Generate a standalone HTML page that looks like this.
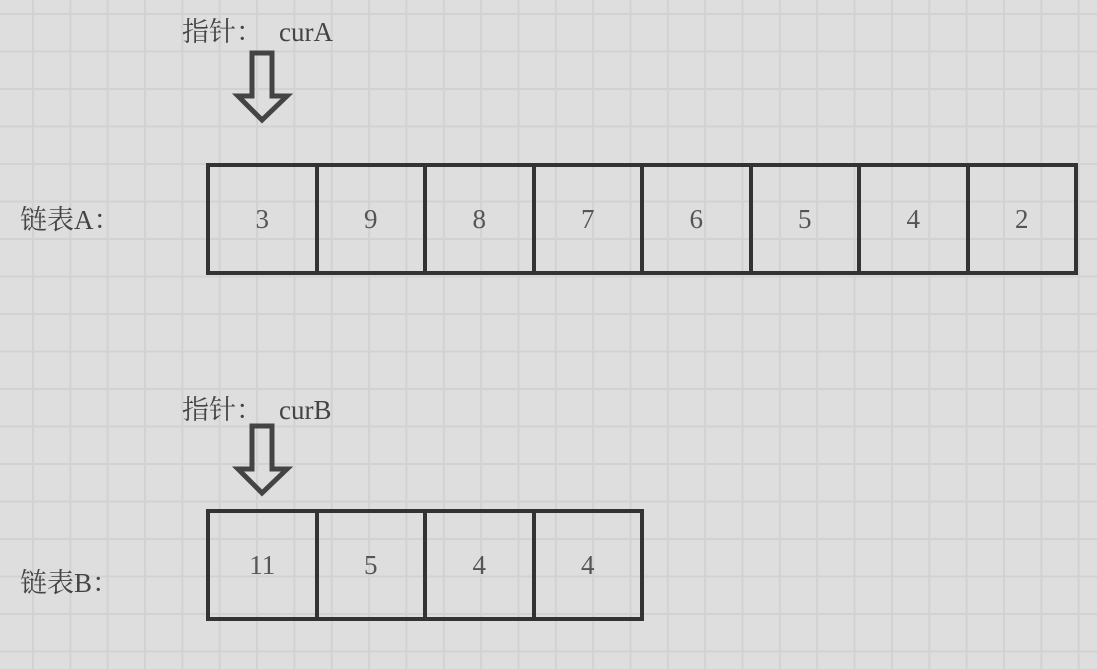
<!DOCTYPE html>
<html><head><meta charset="utf-8"><style>
body{margin:0}
#c{position:relative;width:1097px;height:669px;overflow:hidden;background-color:#dedede;
background-image:linear-gradient(to right,#d2d2d2 2px,transparent 2px),linear-gradient(to bottom,#d2d2d2 2px,transparent 2px);
background-size:37.35px 37.5px;background-position:32px 13px;font-family:"Liberation Serif","Noto Serif CJK SC",serif;color:#444}
.t{position:absolute;font-size:27px;line-height:30px;white-space:nowrap}
.row{position:absolute;display:flex;border:2px solid #333}
.cell{width:104.5px;height:104px;border:2px solid #333;display:flex;align-items:center;justify-content:center;font-size:27px;color:#555}
</style></head><body><div id="c">
<div class="t" style="left:182px;top:17px">指针：<span style="margin-left:16px">curA</span></div>
<div class="t" style="left:182px;top:395px">指针：<span style="margin-left:16px">curB</span></div>
<div class="t" style="left:20px;top:205px">链表A：</div>
<div class="t" style="left:20px;top:568px">链表B：</div>
<svg width="1097" height="669" style="position:absolute;left:0;top:0">
<polygon points="252,53 272,53 272,96 287,96 262,120 238,96 252,96" fill="none" stroke="#444" stroke-width="5"/>
<polygon points="252,426 272,426 272,469 287,469 262,493 238,469 252,469" fill="none" stroke="#444" stroke-width="5"/>
</svg>
<div class="row" style="left:206px;top:163px">
<div class="cell">3</div><div class="cell">9</div><div class="cell">8</div><div class="cell">7</div><div class="cell">6</div><div class="cell">5</div><div class="cell">4</div><div class="cell">2</div></div>
<div class="row" style="left:206px;top:509px">
<div class="cell">11</div><div class="cell">5</div><div class="cell">4</div><div class="cell">4</div></div>
</div></body></html>
